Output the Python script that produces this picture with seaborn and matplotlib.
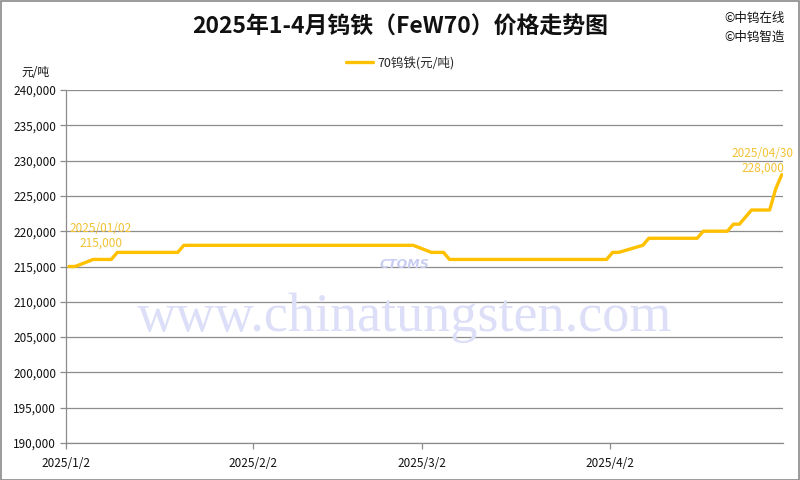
import matplotlib
matplotlib.use("Agg")
import matplotlib.pyplot as plt
from matplotlib.patches import Rectangle
import seaborn as sns
import pandas as pd

# ---------------- data ----------------
dates = [
    "2025-01-02", "2025-01-03",
    "2025-01-06", "2025-01-07", "2025-01-08", "2025-01-09",
    "2025-01-10", "2025-01-13", "2025-01-14", "2025-01-15", "2025-01-16", "2025-01-17", "2025-01-20",
    "2025-01-21", "2025-01-22", "2025-01-23", "2025-01-24", "2025-01-26", "2025-01-27",
    "2025-02-05", "2025-02-06", "2025-02-07", "2025-02-08", "2025-02-10", "2025-02-11", "2025-02-12",
    "2025-02-13", "2025-02-14", "2025-02-17", "2025-02-18", "2025-02-19", "2025-02-20", "2025-02-21",
    "2025-02-24", "2025-02-25", "2025-02-26", "2025-02-27", "2025-02-28",
    "2025-03-03", "2025-03-04", "2025-03-05",
    "2025-03-06", "2025-03-07", "2025-03-10", "2025-03-11", "2025-03-12", "2025-03-13", "2025-03-14",
    "2025-03-17", "2025-03-18", "2025-03-19", "2025-03-20", "2025-03-21", "2025-03-24", "2025-03-25",
    "2025-03-26", "2025-03-27", "2025-03-28", "2025-03-31", "2025-04-01",
    "2025-04-02", "2025-04-03",
    "2025-04-07",
    "2025-04-08", "2025-04-09", "2025-04-10", "2025-04-11", "2025-04-14", "2025-04-15", "2025-04-16",
    "2025-04-17", "2025-04-18", "2025-04-21",
    "2025-04-22", "2025-04-23",
    "2025-04-24",
    "2025-04-25", "2025-04-27", "2025-04-28",
    "2025-04-29",
    "2025-04-30",
]
prices = [
    215000, 215000,
    216000, 216000, 216000, 216000,
    217000, 217000, 217000, 217000, 217000, 217000, 217000,
    218000, 218000, 218000, 218000, 218000, 218000,
    218000, 218000, 218000, 218000, 218000, 218000, 218000,
    218000, 218000, 218000, 218000, 218000, 218000, 218000,
    218000, 218000, 218000, 218000, 218000,
    217000, 217000, 217000,
    216000, 216000, 216000, 216000, 216000, 216000, 216000,
    216000, 216000, 216000, 216000, 216000, 216000, 216000,
    216000, 216000, 216000, 216000, 216000,
    217000, 217000,
    218000,
    219000, 219000, 219000, 219000, 219000, 219000, 219000,
    220000, 220000, 220000,
    221000, 221000,
    222000,
    223000, 223000, 223000,
    226000,
    228000,
]
tick_dates = ["2025-01-02", "2025-02-02", "2025-03-02", "2025-04-02"]
tick_labels = ["2025/1/2", "2025/2/2", "2025/3/2", "2025/4/2"]
series_name = "70钨铁(元/吨)"
title = "2025年1-4月钨铁（FeW70）价格走势图"
first_label = "2025/01/02\n215,000"
last_label = "2025/04/30\n228,000"

# ---------------- style ----------------
sns.set_theme(style="white")
plt.rcParams["font.family"] = ["Noto Sans CJK SC", "DejaVu Sans"]

LINE = "#FFC000"
LABEL = "#F2C233"
GRID = "#8C8C8C"

df = pd.DataFrame({"date": pd.to_datetime(dates) + pd.Timedelta(hours=12),
                   "price": prices, "series": series_name})

fig = plt.figure(figsize=(8, 4.8), dpi=100)
fig.patch.set_facecolor("white")
ax = fig.add_axes([66 / 800, 1 - 443 / 480, (783 - 66) / 800, (443 - 90) / 480])
ax.set_facecolor("none")

# watermark
fig.text(0.506, 1 - 318 / 480, "www.chinatungsten.com", ha="center", va="center",
         fontsize=39, color="#dcdff7", family="Liberation Serif", zorder=0)
fig.text(404 / 800, 1 - 265 / 480, "CTOMS", ha="center", va="center", fontsize=9,
         color="#c9cdf2", style="italic", weight="bold", family="DejaVu Sans", zorder=0)

sns.lineplot(data=df, x="date", y="price", hue="series", palette=[LINE],
             linewidth=2.4, ax=ax, legend=False, zorder=3)

ax.set_ylim(190000, 240000)
ax.set_yticks(range(190000, 240001, 5000))
ax.yaxis.set_major_formatter(matplotlib.ticker.FuncFormatter(lambda v, p: f"{int(v):,}"))
ax.set_xlim(pd.Timestamp("2025-01-02"), pd.Timestamp("2025-04-30 17:00"))
ax.set_xticks(pd.to_datetime(tick_dates))
ax.set_xticklabels(tick_labels)
ax.set_xlabel("")
ax.set_ylabel("")

ax.grid(axis="y", color=GRID, linewidth=0.9)
ax.grid(axis="x", visible=False)
for s in ["top", "right"]:
    ax.spines[s].set_visible(False)
for s in ["left", "bottom"]:
    ax.spines[s].set_color(GRID)
    ax.spines[s].set_linewidth(0.9)
ax.tick_params(axis="y", which="major", direction="out", length=4, width=0.9,
               color=GRID, labelsize=8.5, labelcolor="#111111", pad=3, left=True)
ax.tick_params(axis="x", which="major", direction="out", length=4, width=0.9,
               color=GRID, labelsize=8.5, labelcolor="#111111", pad=6, bottom=True)

# data labels
ax.annotate(first_label, xy=(df["date"].iloc[0], df["price"].iloc[0]),
            xytext=(32, 31), textcoords="offset pixels", ha="center", va="center",
            fontsize=8.5, color=LABEL, linespacing=1.15, zorder=4)
ax.annotate(last_label, xy=(df["date"].iloc[-1], df["price"].iloc[-1]),
            xytext=(-19, 14), textcoords="offset pixels", ha="center", va="center",
            fontsize=8.5, color=LABEL, linespacing=1.15, zorder=4, annotation_clip=False)

# title and texts
fig.text(0.5, 1 - 27 / 480, title, ha="center", va="center", fontsize=16.5, weight="bold",
         color="#111111")
fig.text(724 / 800, 1 - 18.5 / 480, "©中钨在线", ha="left", va="center", fontsize=9, color="#111111")
fig.text(724 / 800, 1 - 37.5 / 480, "©中钨智造", ha="left", va="center", fontsize=9, color="#111111")
fig.text(21 / 800, 1 - 73 / 480, "元/吨", ha="left", va="center", fontsize=8.5, color="#111111")

handle = plt.Line2D([], [], color=LINE, linewidth=2.4)
fig.legend([handle], [series_name], loc="center", bbox_to_anchor=(400 / 800, 1 - 63 / 480),
           frameon=False, fontsize=9, handlelength=2.2, handletextpad=0.3)

fig.add_artist(Rectangle((0.001, 0.001), 0.998, 0.997, transform=fig.transFigure,
                         fill=False, edgecolor="#8a8a8a", linewidth=1.2))

fig.savefig("out.png", dpi=100)
